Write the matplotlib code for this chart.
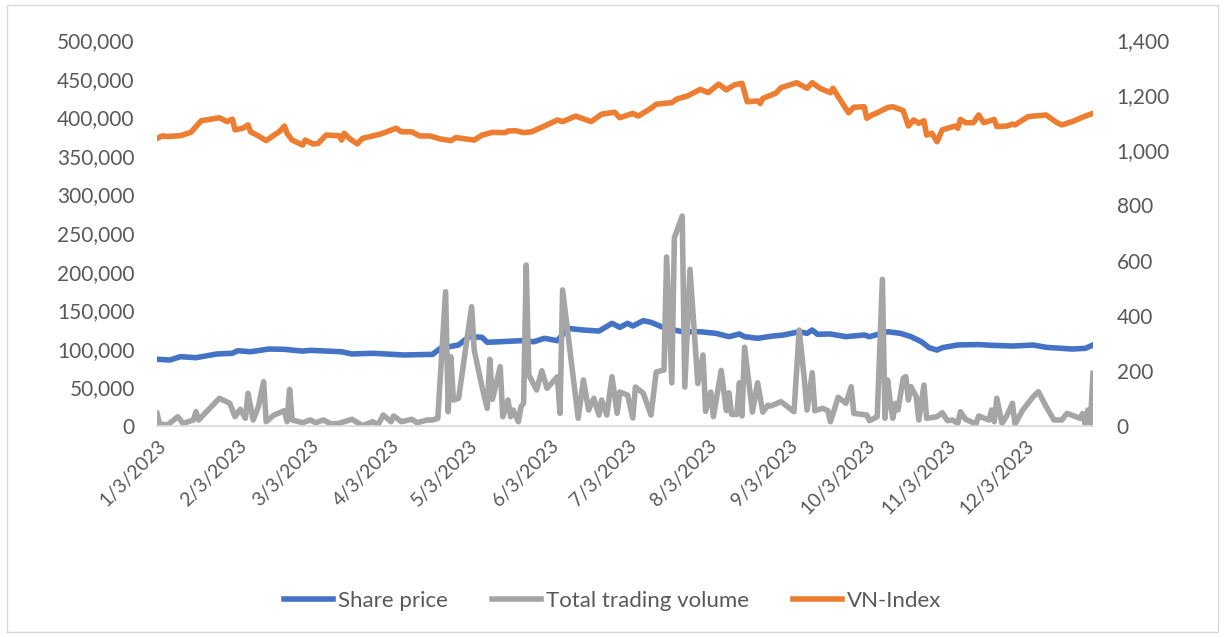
import numpy as np
import pandas as pd
import matplotlib
matplotlib.use('Agg')
import matplotlib.pyplot as plt
import matplotlib.transforms as mtransforms
from matplotlib.ticker import FuncFormatter, MultipleLocator
from matplotlib.patches import Rectangle

plt.rcParams['font.family'] = ['Lato', 'DejaVu Sans']

# day of year 2023 (Jan 1 = 1) and values
vni_day = [3, 5, 7, 12, 16, 20, 27, 30, 32, 33, 36, 38, 39, 42, 45, 48, 50, 52, 53, 55,
           59, 60, 63, 65, 68, 73, 74, 75, 77, 80, 82, 89, 95, 97, 101, 104, 108, 112, 116, 118,
           125, 128, 132, 137, 138, 141, 144, 147, 153, 157, 159, 164, 170, 174, 179, 181, 186, 188, 193, 195,
           201, 203, 207, 212, 215, 219, 222, 225, 228, 230, 234, 235, 236, 241, 243, 249, 253, 255, 258, 262,
           263, 265, 269, 271, 275, 276, 278, 280, 284, 286, 290, 292, 294, 296, 298, 299, 301, 303, 305, 310,
           311, 312, 314, 317, 319, 321, 325, 326, 330, 332, 333, 338, 340, 345, 349, 351, 355, 360, 363]
vni = [1043, 1052, 1050, 1053, 1065, 1107, 1118, 1104, 1113, 1074, 1080, 1092, 1067, 1052, 1035, 1055, 1067, 1088, 1062, 1037,
       1019, 1037, 1023, 1025, 1055, 1053, 1037, 1062, 1043, 1023, 1043, 1059, 1080, 1067, 1067, 1052, 1052, 1041, 1035, 1046,
       1037, 1055, 1065, 1064, 1070, 1071, 1064, 1067, 1092, 1110, 1104, 1124, 1104, 1131, 1138, 1118, 1134, 1124, 1152, 1167,
       1173, 1186, 1197, 1221, 1209, 1240, 1219, 1237, 1243, 1176, 1179, 1170, 1188, 1207, 1227, 1245, 1225, 1245, 1225, 1209,
       1225, 1194, 1136, 1156, 1158, 1116, 1128, 1136, 1155, 1158, 1144, 1088, 1110, 1098, 1107, 1055, 1062, 1031, 1074, 1088,
       1080, 1112, 1100, 1100, 1128, 1100, 1112, 1086, 1088, 1095, 1092, 1122, 1124, 1128, 1101, 1092, 1104, 1124, 1134]

price_day = [3, 8, 12, 18, 26, 32, 34, 39, 46, 52, 59, 62, 74, 78, 86, 98, 109, 112, 119, 123,
             128, 130, 135, 143, 148, 152, 157, 161, 167, 173, 178, 181, 184, 186, 190, 193, 198, 205, 212, 218,
             223, 227, 229, 234, 240, 244, 250, 253, 255, 257, 262, 268, 275, 277, 284, 289, 293, 297, 300, 303,
             305, 311, 319, 324, 332, 340, 345, 355, 360, 363]
price = [86400, 85500, 89800, 88500, 93300, 94200, 97500, 96200, 99700, 99300, 97000, 98000, 96200, 93300, 94200, 92000, 92800, 100600, 105000, 115700,
         114900, 108400, 109200, 110500, 109200, 113600, 110500, 126500, 124300, 123000, 133000, 127800, 133000, 129500, 136400, 134300, 127300, 122100, 122100, 120000,
         115700, 119200, 115700, 113600, 116600, 117900, 122100, 120000, 124300, 118800, 119200, 115700, 117900, 115700, 122100, 120000, 115700, 109200, 101400, 98400,
         101400, 105000, 105500, 104500, 103600, 104900, 101900, 99700, 100600, 104900]

vol_day = [3, 4, 7, 11, 13, 17, 18, 19, 27, 31, 33, 35, 37, 38, 40, 42, 44, 45, 48, 52,
           53, 54, 55, 59, 62, 64, 67, 70, 73, 78, 82, 86, 88, 90, 93, 94, 97, 101, 103, 107,
           109, 111, 114, 115, 116, 117, 119, 124, 125, 128, 130, 131, 132, 135, 136, 138, 139, 140, 142, 143,
           144, 145, 146, 149, 151, 153, 157, 158, 159, 165, 167, 169, 171, 173, 174, 176, 178, 180, 181, 184,
           186, 187, 190, 193, 195, 198, 199, 201, 202, 205, 206, 208, 211, 213, 214, 216, 217, 220, 222, 223,
           224, 226, 227, 228, 229, 232, 234, 236, 238, 239, 243, 248, 250, 252, 253, 255, 256, 259, 261, 262,
           265, 268, 270, 271, 276, 277, 280, 282, 283, 284, 285, 286, 287, 288, 290, 291, 292, 293, 295, 296,
           298, 299, 303, 305, 307, 309, 311, 312, 314, 318, 319, 323, 324, 325, 326, 328, 330, 332, 333, 336,
           338, 340, 342, 345, 348, 351, 353, 358, 359, 360, 361, 362, 363]
vol = [16400, 2600, 1300, 12000, 3500, 7800, 18500, 7800, 35900, 29400, 12000, 21600, 10000, 42300, 7800, 25000, 57400, 5600, 14200, 19800,
       5600, 47500, 7800, 4300, 7800, 4300, 7800, 2600, 3500, 8700, 500, 5600, 1300, 14200, 5600, 13000, 5600, 8700, 4300, 7800,
       7800, 10000, 174000, 18500, 89800, 33700, 35900, 154500, 98400, 50900, 22900, 86400, 34600, 76800, 12000, 33700, 12000, 20700, 5600, 25000,
       29400, 208500, 66100, 46600, 71600, 48800, 63900, 16400, 176200, 10000, 59600, 20700, 35900, 14200, 33700, 14200, 63900, 16400, 44000, 40000,
       10400, 50500, 42700, 14200, 69900, 72500, 219000, 56000, 244000, 272000, 50500, 203000, 55000, 92000, 19000, 44000, 12000, 72000, 20000, 43000,
       15000, 15000, 56000, 13000, 102000, 18000, 56000, 18000, 27000, 25900, 31500, 18500, 124300, 59600, 20700, 69000, 19800, 22900, 19800, 5600,
       37200, 29400, 50900, 16400, 14200, 6900, 12000, 190000, 10000, 59600, 31500, 10000, 29400, 20700, 61800, 63900, 33700, 50900, 38000, 7800,
       53100, 10000, 12000, 17200, 6900, 7800, 3500, 18500, 8700, 2600, 13000, 7800, 20700, 5600, 35900, 3500, 14200, 29400, 2600, 20700,
       29400, 38000, 44400, 25000, 7800, 7800, 16400, 10000, 16000, 2600, 20700, 3500, 68300]


def to_dates(days):
    return pd.Timestamp('2023-01-01') + pd.to_timedelta(np.array(days) - 1, unit='D')


W, H = 1225, 637
fig = plt.figure(figsize=(W / 100, H / 100), dpi=100)
ax = fig.add_axes([157 / W, 1 - 426 / H, (1093 - 157) / W, (426 - 40) / H])
ax2 = ax.twinx()

lw = 4.0
l1, = ax.plot(to_dates(price_day), price, color='#4472C4', lw=lw, solid_joinstyle='round', label='Share price')
l2, = ax.plot(to_dates(vol_day), vol, color='#A5A5A5', lw=lw, solid_joinstyle='round', label='Total trading volume')
l3, = ax2.plot(to_dates(vni_day), vni, color='#ED7D31', lw=lw, solid_joinstyle='round', label='VN-Index')

ax.set_xlim(to_dates([3])[0], to_dates([363])[0])
ax.set_ylim(0, 500000)
ax2.set_ylim(0, 1400)
ax.yaxis.set_major_locator(MultipleLocator(50000))
ax2.yaxis.set_major_locator(MultipleLocator(200))
fmt = FuncFormatter(lambda v, p: f'{int(v):,}')
ax.yaxis.set_major_formatter(fmt)
ax2.yaxis.set_major_formatter(fmt)

ticks = [pd.Timestamp(2023, m, 3) for m in range(1, 13)]
ax.set_xticks(ticks)
ax.set_xticklabels([f'{t.month}/{t.day}/{t.year}' for t in ticks], rotation=45,
                   ha='right', va='top', rotation_mode='anchor')
shift = mtransforms.ScaledTranslation(7 / 100, 0, fig.dpi_scale_trans)
for lab in ax.get_xticklabels():
    lab.set_transform(lab.get_transform() + shift)

for a in (ax, ax2):
    for s in a.spines.values():
        s.set_visible(False)
ax.spines['bottom'].set_visible(True)
ax.spines['bottom'].set_color('#D9D9D9')
ax.spines['bottom'].set_linewidth(1.2)

ax.tick_params(axis='y', length=0, labelsize=15, colors='#595959', pad=16)
ax2.tick_params(axis='y', length=0, labelsize=15, colors='#595959', pad=17)
ax.tick_params(axis='x', length=0, labelsize=14, colors='#595959', pad=8)

fig.legend([l1, l2, l3], [l.get_label() for l in (l1, l2, l3)], loc='center',
           bbox_to_anchor=(0.5, 1 - 601 / H), ncol=3, frameon=False, fontsize=16,
           handlelength=2.2, handletextpad=0.22, columnspacing=2.0, labelcolor='#595959')

fig.patches.append(Rectangle((7 / W, 5 / H), (1218 - 7) / W, (632 - 5) / H, transform=fig.transFigure,
                             fill=False, ec='#D9D9D9', lw=1))

fig.savefig('out.png', dpi=100)
